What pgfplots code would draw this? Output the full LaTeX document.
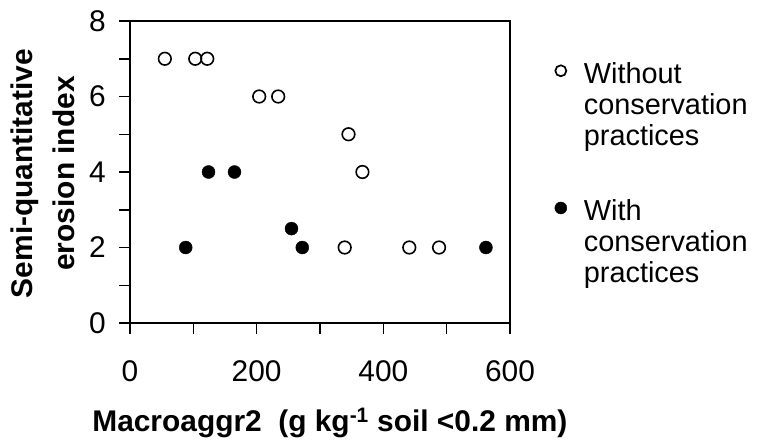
\documentclass[border=0pt]{standalone}
\usepackage{fontspec}
\setmainfont{Liberation Sans}
\usepackage{pgfplots}
\pgfplotsset{compat=1.18}
\pgfplotsset{
    legopen/.style={legend image code/.code={\path[draw=none, fill=none] (0bp,-1bp) rectangle (29bp,1bp);
        \draw[##1, mark size=5.5bp, line width=1.7bp] plot coordinates {(6bp,34bp)};}},
    legfill/.style={legend image code/.code={\path[draw=none, fill=none] (0bp,-1bp) rectangle (29bp,1bp);
        \draw[##1, mark size=6bp] plot coordinates {(6bp,34bp)};}},
}
\begin{document}
\begin{tikzpicture}
\begin{axis}[
    scale only axis,
    width=380bp, height=302bp,
    xmin=0, xmax=600, ymin=0, ymax=8,
    xtick={0,200,400,600}, ytick={0,2,4,6,8},
    minor x tick num=1, minor y tick num=1,
    tick align=outside, xtick pos=left, ytick pos=left,
    major tick length=11bp, minor tick length=11bp,
    axis line style={line width=1.5bp},
    every tick/.style={black, line width=1.5bp},
    /pgf/number format/assume math mode=true,
    ticklabel style={font=\fontsize{30}{36}\selectfont},
    xticklabel style={anchor=base, yshift=-47bp},
    yticklabel style={anchor=east, inner sep=0pt, xshift=-13bp},
    xlabel={Macroaggr2\ \ (g kg\textsuperscript{-1} soil <0.2 mm)},
    xlabel style={font=\fontsize{30}{36}\selectfont\bfseries, inner sep=0pt,
        at={(axis description cs:0.526,-0.358)}, anchor=base},
    ylabel={Semi-quantitative\\erosion index},
    ylabel style={font=\fontsize{30}{42}\selectfont\bfseries, align=center, inner sep=0pt,
        at={(axis description cs:-0.145,0.495)}, anchor=south},
    legend style={draw=none, fill=none, font=\fontsize{29}{31}\selectfont,
        at={(axis description cs:1.118,0.862)}, anchor=north west,
        inner sep=0pt, outer sep=0pt, nodes={inner sep=0pt},
        column sep=0pt, row sep=53bp, cells={align=left}},
    legend cell align=left,
]
\addplot[only marks, mark=o, mark size=6.3bp, line width=1.6bp, black, legopen]
    coordinates {(55,7)(103,7)(122,7)(204,6)(234,6)(345,5)(367,4)(339,2)(441,2)(488,2)};
\addlegendentry{Without\\conservation\\practices}
\addplot[only marks, mark=*, mark size=6.5bp, black, fill=black, legfill]
    coordinates {(88,2)(124,4)(165,4)(255,2.5)(272,2)(562,2)};
\addlegendentry{With\\conservation\\practices}
\coordinate (O) at (rel axis cs:0,0);
\end{axis}
\pgfresetboundingbox
\path (O) ++(-130bp,-120bp) rectangle ++(765bp,443bp);
\end{tikzpicture}
\end{document}
